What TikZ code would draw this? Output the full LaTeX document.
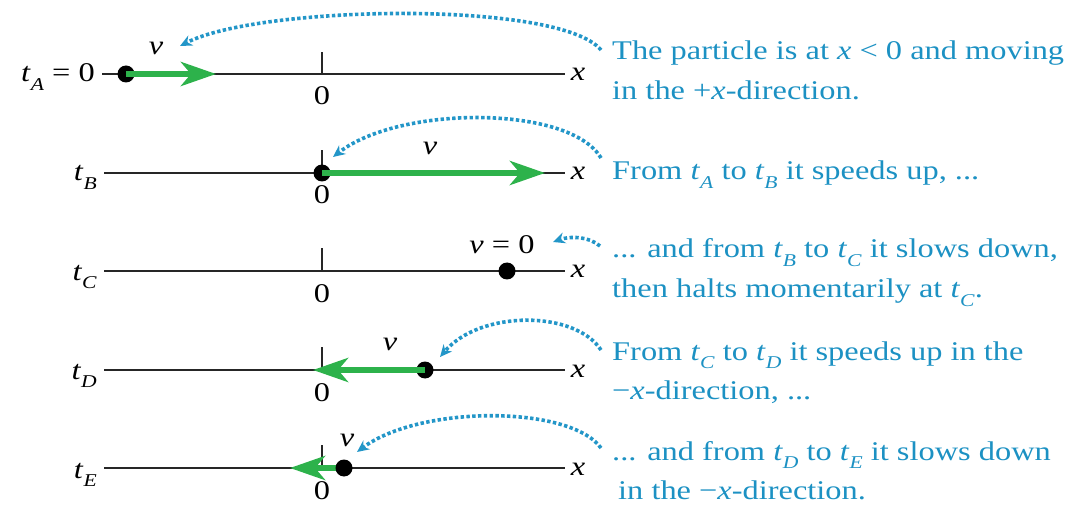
\documentclass[tikz,border=0pt]{standalone}
\usepackage{fontspec}
\setmainfont[FakeStretch=1.2]{Liberation Serif}
\usetikzlibrary{arrows.meta}
\definecolor{txtblue}{RGB}{28,145,195}
\definecolor{dotblue}{RGB}{35,150,200}
\definecolor{vgreen}{RGB}{45,178,75}
\newcommand\sbs[1]{\raisebox{-0.3em}{\fontsize{18}{18}\selectfont\textit{#1}}}
\tikzset{
  axisline/.style={line width=1.8pt, black!85},
  tickmark/.style={line width=1.8pt, black!85},
  particle/.style={circle, fill=black, inner sep=0pt, minimum size=17pt},
  velarrow/.style={line width=6pt, vgreen, -{Stealth[length=35pt,width=24pt,inset=10pt]}},
  pointer/.style={line width=3.6pt, dotblue, dash pattern=on 3.4pt off 2.4pt, -{Stealth[length=12pt,width=11pt]}},
  lbl/.style={font=\fontsize{27}{32}\selectfont, inner sep=0pt},
  note/.style={lbl, text=txtblue, anchor=base west},
}
\begin{document}
\begin{tikzpicture}[x=1pt,y=-1pt]
\useasboundingbox (0,0) rectangle (1085,505);
% ---------- row A ----------
\node[lbl, anchor=base east] (tA) at (95,82) {\textit{t}\sbs{A} = 0};
\coordinate (A0) at (102,74); \coordinate (A1) at (565,74);
\draw[axisline] (A0) -- (A1);
\node[lbl, anchor=base] (xA) at (578,81) {\textit{x}};
\draw[tickmark] (322,74) -- (322,52);
\node[lbl, anchor=base] (zA) at (322,105) {0};
\node[particle] (pA) at (126,74) {};
\coordinate (hA) at (216,74);
\draw[velarrow] (pA.center) -- (hA);
\node[lbl] (vA) at (156,48) {\textit{v}};
% ---------- row B ----------
\node[lbl, anchor=base east] (tB) at (97,181) {\textit{t}\sbs{B}};
\coordinate (B0) at (104,173); \coordinate (B1) at (565,173);
\draw[axisline] (B0) -- (B1);
\node[lbl, anchor=base] (xB) at (578,180) {\textit{x}};
\draw[tickmark] (322,173) -- (322,150);
\node[lbl, anchor=base] (zB) at (322,204) {0};
\node[particle] (pB) at (322,173) {};
\coordinate (hB) at (545,173);
\draw[velarrow] (pB.center) -- (hB);
\node[lbl] (vB) at (430,148) {\textit{v}};
% ---------- row C ----------
\node[lbl, anchor=base east] (tC) at (97,280) {\textit{t}\sbs{C}};
\coordinate (C0) at (104,271); \coordinate (C1) at (565,271);
\draw[axisline] (C0) -- (C1);
\node[lbl, anchor=base] (xC) at (578,278) {\textit{x}};
\draw[tickmark] (322,271) -- (322,248);
\node[lbl, anchor=base] (zC) at (322,302) {0};
\node[particle] (pC) at (507,271) {};
\node[lbl] (vC) at (502,245) {\textit{v} = 0};
% ---------- row D ----------
\node[lbl, anchor=base east] (tD) at (97,379) {\textit{t}\sbs{D}};
\coordinate (D0) at (104,370); \coordinate (D1) at (565,370);
\draw[axisline] (D0) -- (D1);
\node[lbl, anchor=base] (xD) at (578,377) {\textit{x}};
\draw[tickmark] (322,370) -- (322,347);
\node[lbl, anchor=base] (zD) at (322,401) {0};
\node[particle] (pD) at (425,370) {};
\coordinate (hD) at (313,370);
\draw[velarrow] (pD.center) -- (hD);
\node[lbl] (vD) at (390,344) {\textit{v}};
% ---------- row E ----------
\node[lbl, anchor=base east] (tE) at (97,478) {\textit{t}\sbs{E}};
\coordinate (E0) at (104,468); \coordinate (E1) at (565,468);
\draw[axisline] (E0) -- (E1);
\node[lbl, anchor=base] (xE) at (578,475) {\textit{x}};
\draw[tickmark] (322,468) -- (322,445);
\node[lbl, anchor=base] (zE) at (322,499) {0};
\coordinate (hE) at (290,468);
\draw[velarrow] (344,468) -- (hE);
\node[particle] (pE) at (344,468) {};
\node[lbl] (vE) at (347,440) {\textit{v}};
% ---------- notes ----------
\node[note] (nA1) at (612,60) {The particle is at \textit{x} < 0 and moving};
\node[note] (nA2) at (612,100) {in the +\textit{x}-direction.};
\node[note] (nB) at (612,180) {From \textit{t}\sbs{A} to \textit{t}\sbs{B} it speeds up, ...};
\node[note] (nC1) at (612,258) {... and from \textit{t}\sbs{B} to \textit{t}\sbs{C} it slows down,};
\node[note] (nC2) at (612,298) {then halts momentarily at \textit{t}\sbs{C}.};
\node[note] (nD1) at (612,360) {From \textit{t}\sbs{C} to \textit{t}\sbs{D} it speeds up in the};
\node[note] (nD2) at (612,399) {−\textit{x}-direction, ...};
\node[note] (nE1) at (612,460) {... and from \textit{t}\sbs{D} to \textit{t}\sbs{E} it slows down};
\node[note] (nE2) at (618,499) {in the −\textit{x}-direction.};
% ---------- pointers ----------
\coordinate (sA) at (601,50); \coordinate (eA) at (180,46);
\draw[pointer] (sA) .. controls (560,0) and (260,5) .. (eA);
\coordinate (sB) at (601,158); \coordinate (eB) at (333,157);
\draw[pointer] (sB) .. controls (570,105) and (400,105) .. (eB);
\coordinate (sC) at (600,246); \coordinate (eC) at (553,242);
\draw[pointer] (sC) .. controls (588,236) and (570,236) .. (eC);
\coordinate (sD) at (601,350); \coordinate (eD) at (440,357);
\draw[pointer] (sD) .. controls (575,310) and (480,310) .. (eD);
\coordinate (sE) at (601,448); \coordinate (eE) at (357,452);
\draw[pointer] (sE) .. controls (570,405) and (420,405) .. (eE);
\end{tikzpicture}
\end{document}
